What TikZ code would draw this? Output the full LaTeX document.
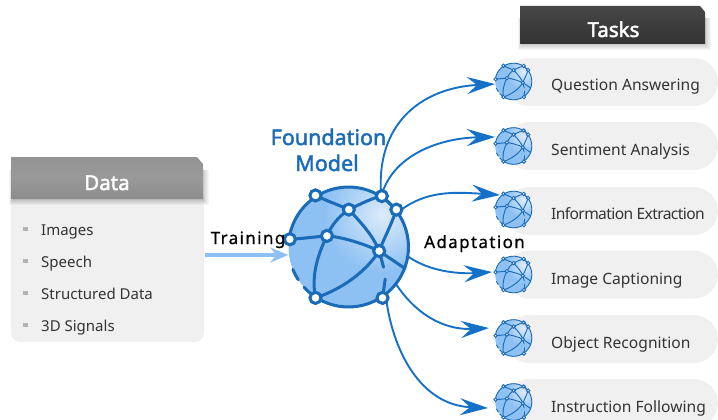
\documentclass[tikz,border=0pt]{standalone}
\usepackage{fontspec}
\setmainfont{Noto Sans}
\usetikzlibrary{arrows.meta}
\definecolor{gblue}{HTML}{1A6BB8}
\definecolor{cblue}{HTML}{1570C8}
\definecolor{glight}{HTML}{8EC1F3}
\definecolor{ghi}{HTML}{DCEBFA}
\definecolor{panel}{HTML}{F0F0F0}
\definecolor{txt}{HTML}{333333}
\newcommand{\globe}[3]{%
 \begin{scope}[shift={(#1,#2)},x=#3pt,y=-#3pt]
  \def\gs{#3}
  \begin{scope}
   \clip (0,0) circle (178);
   \fill[glight] (0,0) circle (178);
   \shade[inner color=ghi,outer color=glight,draw=none] (100,-95) circle (170);
  \end{scope}
  \begin{scope}[gblue,line width=\gs*9pt,line cap=round]
   \draw (0,0) ++(138:178) arc (138:-173:178);
   \draw (0,0) ++(147:178) arc (147:158:178);
   \draw (-98,-153) .. controls (-60,-135) and (-30,-125) .. (1,-111);
   \draw (1,-111) .. controls (40,-130) and (70,-145) .. (99,-151);
   \draw (99,-151) -- (142,-111);
   \draw (1,-111) .. controls (-30,-90) and (-50,-65) .. (-64,-33);
   \draw (1,-111) .. controls (40,-70) and (75,-30) .. (91,12);
   \draw (142,-111) .. controls (125,-60) and (105,-25) .. (91,12);
   \draw (-174,-23) .. controls (-135,-25) and (-100,-30) .. (-64,-33);
   \draw (-64,-33) .. controls (-20,-30) and (45,-10) .. (91,12);
   \draw (-64,-33) .. controls (-95,30) and (-110,90) .. (-98,151);
   \draw (-98,151) .. controls (-20,125) and (50,75) .. (91,12);
   \draw (91,12) -- (168,64);
   \draw (91,12) -- (104,60);
   \draw (109,95) -- (101,151);
  \end{scope}
  \foreach \p in {(-98,-153),(1,-111),(99,-151),(142,-111),(-174,-23),(-64,-33),(91,12),(-98,151),(101,151)}{
    \filldraw[fill=white,draw=gblue,line width=\gs*9pt] \p circle (16.5);
  }
 \end{scope}}
\tikzset{
 conn/.style={cblue,line width=1.9pt,-{Stealth[length=28pt,width=17pt,inset=10pt]}},
 pill/.style={fill=panel,draw=none,rounded corners=24pt},
 tasktext/.style={anchor=base west,font=\fontsize{15.6}{18}\selectfont,text=txt,inner sep=0pt},
 datatext/.style={anchor=base west,font=\fontsize{15}{18}\selectfont,text=txt,inner sep=0pt},
 bullet/.style={fill=black!30,draw=none,minimum size=4.5pt,inner sep=0pt},
 headtext/.style={anchor=base,font=\fontsize{20.5}{24}\selectfont\addfontfeatures{FakeBold=2},text=white,inner sep=0pt},
 labeltext/.style={anchor=base,font=\fontsize{17}{20}\selectfont\addfontfeatures{LetterSpace=8,FakeBold=0.8},text=black,inner sep=0pt},
 fmtext/.style={anchor=base,font=\fontsize{21.5}{26}\selectfont\addfontfeatures{FakeBold=2},text=gblue,inner sep=0pt},
 hub/.style={circle,minimum size=120pt,inner sep=0pt},
 minig/.style={circle,minimum size=37pt,inner sep=0pt},
}
\begin{document}
\begin{tikzpicture}[x=1pt,y=-1pt]
\useasboundingbox (0,0) rectangle (718,420);
\clip (0,0) rectangle (718,420);
% data panel
\fill[panel,rounded corners=9pt] (11,190) rectangle (204,342);
\foreach \i in {1,...,6}{
  \fill[black,opacity=0.035] (13-\i*0.7,170) -- (203+\i,170) -- (203+\i,199+\i) -- (13-\i*0.7,199+\i) -- cycle;
}
\shade[top color=black!42,bottom color=black!45,middle color=black!40] (11,157) -- (197,157) -- (203,164) -- (203,199) -- (11,199) -- cycle;
\node[headtext] (dh) at (107,190) {Data};
\node[bullet] (b1) at (25.5,229) {};
\node[bullet] (b2) at (25.5,261) {};
\node[bullet] (b3) at (25.5,293) {};
\node[bullet] (b4) at (25.5,325) {};
\node[datatext] (d1) at (41,235) {Images};
\node[datatext] (d2) at (41,267) {Speech};
\node[datatext] (d3) at (41,299) {Structured Data};
\node[datatext] (d4) at (41,331) {3D Signals};
% task pills
\foreach \y in {82,146,211,274.5,339,403}{
  \fill[pill] (505,\y-24) rectangle (718,\y+24);
}
% tasks header
\foreach \i in {1,...,6}{
  \fill[black,opacity=0.035] (522-\i*0.7,18) -- (705+\i,18) -- (705+\i,44+\i) -- (522-\i*0.7,44+\i) -- cycle;
}
\shade[top color=black!72,bottom color=black!80] (520,6) -- (700,6) -- (705,12) -- (705,44) -- (520,44) -- cycle;
\node[headtext] (th) at (613.5,37) {Tasks};
% hub
\node[hub] (fm) at (348.5,247) {};
\node[minig] (t1) at (513.5,81.5) {};
\node[minig] (t2) at (513.5,146) {};
\node[minig] (t3) at (513.5,209.5) {};
\node[minig] (t4) at (513.5,274.5) {};
\node[minig] (t5) at (513.5,338) {};
\node[minig] (t6) at (513.5,402) {};
\coordinate (trainstart) at (205,255);
\coordinate (tip1) at (495,84);
\coordinate (tip2) at (495,137);
\coordinate (tip3) at (500,195);
\coordinate (tip4) at (492,272);
\coordinate (tip5) at (489,328);
\coordinate (tip6) at (488,408);
\draw[glight,line width=3.5pt,-{Stealth[length=18pt,width=15pt,inset=6pt]}] (trainstart) -- (fm.west |- trainstart);
% connectors
\draw[conn] (fm.57) .. controls (375,125) and (420,88) .. (tip1);
\draw[conn] (fm.57) .. controls (392,155) and (440,138) .. (tip2);
\draw[conn] (fm.35) .. controls (425,190) and (455,192) .. (tip3);
\draw[conn] (fm.351) .. controls (430,272) and (460,274) .. (tip4);
\draw[conn] (fm.-38) .. controls (420,320) and (450,330) .. (tip5);
\draw[conn] (fm.-52) .. controls (392,350) and (420,405) .. (tip6);
% globes
\globe{348.5}{247}{0.337}
\foreach \y in {81.5,146,209.5,274.5,338,402}{ \globe{513.5}{\y}{0.103} }
% labels
\node[fmtext] (f1) at (328.5,145) {Foundation};
\node[fmtext] (f2) at (327,171) {Model};
\node[labeltext] (tr) at (248,244) {Training};
\node[labeltext] (ad) at (474.5,248) {Adaptation};
\node[tasktext] (q1) at (551,91) {Question Answering};
\node[tasktext] (q2) at (551,155) {Sentiment Analysis};
\node[tasktext,font=\fontsize{15.6}{18}\selectfont\addfontfeatures{LetterSpace=-4}] (q3) at (551,219.5) {Information Extraction};
\node[tasktext] (q4) at (551,284) {Image Captioning};
\node[tasktext] (q5) at (551,348) {Object Recognition};
\node[tasktext] (q6) at (551,412) {Instruction Following};
\end{tikzpicture}
\end{document}
